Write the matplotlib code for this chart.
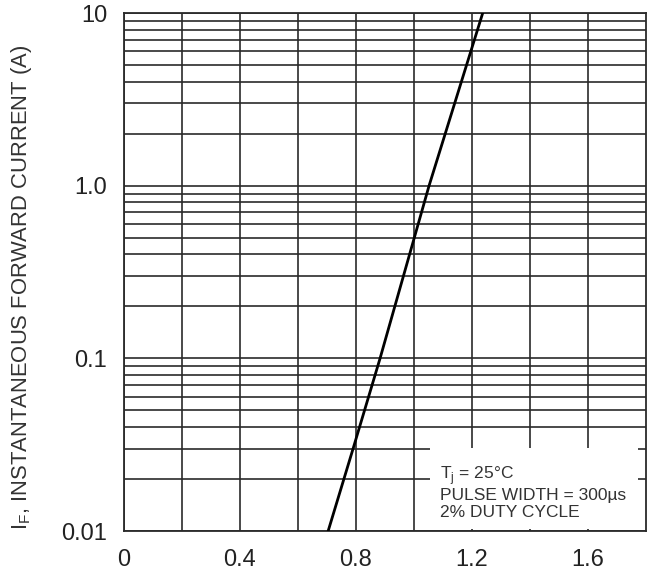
import numpy as np
import matplotlib
matplotlib.use('Agg')
import matplotlib.pyplot as plt
from matplotlib.ticker import FixedLocator, NullFormatter, FixedFormatter
from matplotlib.patches import Rectangle

plt.rcParams['font.family'] = ['Liberation Sans', 'DejaVu Sans']

# forward voltage (V) vs instantaneous forward current (A)
v_f = [0.704, 0.79, 0.883, 1.052, 1.237]
i_f = [0.01, 0.03, 0.1, 1.0, 10.0]

x_ticks = [0, 0.4, 0.8, 1.2, 1.6]
x_labels = ['0', '0.4', '0.8', '1.2', '1.6']
x_grid = [0.2, 0.6, 1.0, 1.4]
y_ticks = [0.01, 0.1, 1.0, 10]
y_labels = ['0.01', '0.1', '1.0', '10']

grid_col = '#2a2a2a'

fig = plt.figure(figsize=(6.54, 5.79), dpi=100)
ax = fig.add_axes([124/654, 1 - 531/579, 522/654, 518/579])

ax.set_yscale('log')
ax.set_xlim(0, 1.8)
ax.set_ylim(0.01, 10)

ax.xaxis.set_major_locator(FixedLocator(x_ticks))
ax.xaxis.set_major_formatter(FixedFormatter(x_labels))
ax.xaxis.set_minor_locator(FixedLocator(x_grid))
ax.yaxis.set_major_locator(FixedLocator(y_ticks))
ax.yaxis.set_major_formatter(FixedFormatter(y_labels))
ax.yaxis.set_minor_locator(FixedLocator([m * d for d in (0.01, 0.1, 1.0) for m in range(2, 10)]))
ax.yaxis.set_minor_formatter(NullFormatter())

ax.grid(True, which='both', color=grid_col, lw=1.2)
ax.tick_params(axis='both', which='both', length=0, labelsize=17, colors='#222222')
ax.tick_params(axis='x', pad=13)
ax.tick_params(axis='y', pad=12)
for s in ax.spines.values():
    s.set_color(grid_col)
    s.set_linewidth(1.3)

ax.plot(v_f, i_f, color='black', lw=2.0, zorder=4)

# white box behind the test conditions
ax.add_patch(Rectangle((0.586, 0.003), 0.398, 0.158, transform=ax.transAxes,
                       facecolor='white', edgecolor='none', zorder=3))
ax.text(0.605, 0.13, 'T$_\\mathregular{j}$ = 25°C\nPULSE WIDTH = 300µs\n2% DUTY CYCLE',
        transform=ax.transAxes, fontsize=12.5, color='#333333', va='top', ha='left',
        linespacing=1.15, zorder=5)

fig.text(22/654, 1 - 287/579, 'I$_\\mathregular{F}$, INSTANTANEOUS FORWARD CURRENT (A)',
         fontsize=15.8, color='#333333', rotation=90, ha='center', va='center')

fig.savefig('out.png', dpi=100)
